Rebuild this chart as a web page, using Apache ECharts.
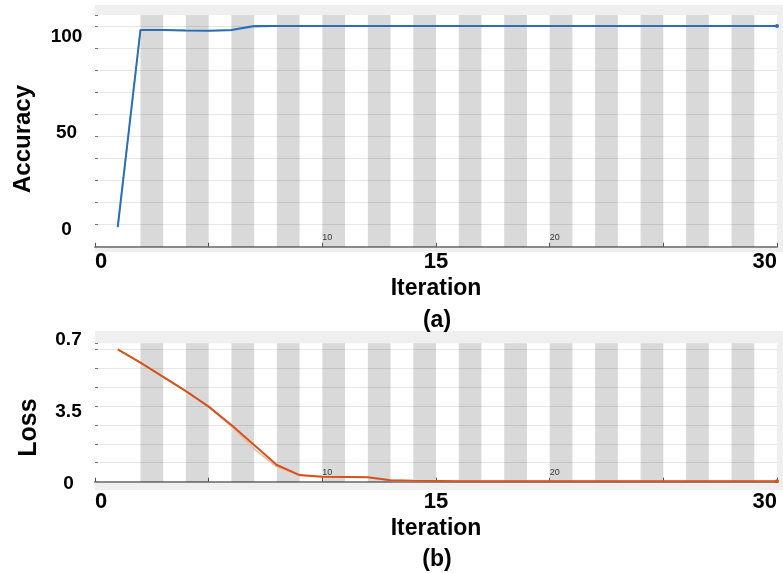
<!DOCTYPE html>
<html>
<head>
<meta charset="utf-8">
<title>Training accuracy and loss</title>
<script src="https://cdn.jsdelivr.net/npm/echarts@6/dist/echarts.min.js"></script>
<style>
  html, body { margin: 0; padding: 0; background: #fff; }
  #chart { width: 783px; height: 573px; }
</style>
</head>
<body>
<div id="chart"></div>
<script>
// iterations 1..30
const iterations = [1, 2, 3, 4, 5, 6, 7, 8, 9, 10, 11, 12, 13, 14, 15,
  16, 17, 18, 19, 20, 21, 22, 23, 24, 25, 26, 27, 28, 29, 30];

// accuracy (%) - smoothed (dark) and raw (light)
const accuracySmoothed = [8.9, 98.2, 98.2, 98.0, 97.9, 98.2, 100, 100, 100, 100,
  100, 100, 100, 100, 100, 100, 100, 100, 100, 100,
  100, 100, 100, 100, 100, 100, 100, 100, 100, 100];
const accuracyRaw = [8.9, 98.2, 98.2, 98.0, 97.9, 98.0, 99.4, 100, 100, 100,
  100, 100, 100, 100, 100, 100, 100, 100, 100, 100,
  100, 100, 100, 100, 100, 100, 100, 100, 100, 100];

// loss - smoothed (dark) and raw (light)
const lossSmoothed = [0.698, 0.628, 0.553, 0.478, 0.396, 0.299, 0.194, 0.088, 0.035, 0.026,
  0.025, 0.023, 0.008, 0.005, 0.004, 0.003, 0.003, 0.002, 0.002, 0.002,
  0.002, 0.002, 0.002, 0.002, 0.002, 0.002, 0.002, 0.002, 0.002, 0.002];
const lossRaw = [0.698, 0.628, 0.553, 0.478, 0.396, 0.292, 0.172, 0.078, 0.033, 0.026,
  0.025, 0.023, 0.008, 0.005, 0.004, 0.003, 0.003, 0.002, 0.002, 0.002,
  0.002, 0.002, 0.002, 0.002, 0.002, 0.002, 0.002, 0.002, 0.002, 0.002];

// shaded epochs (iteration ranges)
const epochBands = [[2, 3], [4, 5], [6, 7], [8, 9], [10, 11], [12, 13], [14, 15],
  [16, 17], [18, 19], [20, 21], [22, 23], [24, 25], [26, 27], [28, 29]];

// tick labels
const bigXLabels = [0, 15, 30];
const smallXLabels = [10, 20];
const accLabelValues = [0, 50, 100];
const lossLabelValues = [0, 0.35, 0.7];
const lossLabelText = ['0', '3.5', '0.7'];

const FONT = "'Liberation Sans', Arial, sans-serif";

const chart = echarts.init(document.getElementById('chart'));

const toPairs = vals => iterations.map((it, i) => [it, vals[i]]);
// last point gets a small dot like the original plot
const withEndDot = vals => {
  const pts = toPairs(vals);
  const last = pts.length - 1;
  pts[last] = { value: pts[last], symbol: 'circle', symbolSize: 4 };
  return pts;
};

const bigXAxis = (gridIndex, margin, nameGap) => ({
  type: 'value',
  gridIndex,
  min: 0,
  max: 30,
  interval: 5,
  axisLine: { lineStyle: { color: '#8a8a8a', width: 2 } },
  axisTick: { inside: true, length: 4, lineStyle: { color: '#555' } },
  axisLabel: {
    customValues: bigXLabels,
    margin,
    fontSize: 22,
    fontWeight: 'bold',
    fontFamily: FONT,
    color: '#000',
    alignMinLabel: 'left',
    alignMaxLabel: 'right'
  },
  splitLine: { show: false },
  name: 'Iteration',
  nameLocation: 'middle',
  nameGap,
  nameTextStyle: { fontSize: 23, fontWeight: 'bold', fontFamily: FONT, color: '#000' }
});

const smallXAxis = gridIndex => ({
  type: 'value',
  gridIndex,
  position: 'bottom',
  min: 0,
  max: 30,
  axisLine: { show: false },
  axisTick: { show: false },
  splitLine: { show: false },
  axisLabel: {
    customValues: smallXLabels,
    inside: true,
    margin: 5,
    fontSize: 9,
    fontFamily: FONT,
    color: '#444',
    align: 'left'
  }
});

const dataYAxis = (gridIndex, max, interval) => ({
  type: 'value',
  gridIndex,
  min: 0,
  max,
  interval,
  axisLine: { show: false },
  axisTick: { inside: true, length: 3, lineStyle: { color: '#777' } },
  axisLabel: { show: false },
  splitLine: { showMinLine: false, showMaxLine: false, lineStyle: { color: '#e6e6e6' } }
});

const labelYAxis = (gridIndex, min, max, values, formatter, margin, name, nameSize, nameGap) => ({
  type: 'value',
  gridIndex,
  min,
  max,
  axisLine: { show: false },
  axisTick: { show: false },
  splitLine: { show: false },
  axisLabel: {
    customValues: values,
    formatter,
    margin,
    align: 'center',
    fontSize: 19,
    fontWeight: 'bold',
    fontFamily: FONT,
    color: '#000'
  },
  name,
  nameLocation: 'middle',
  nameGap,
  nameTextStyle: { fontSize: nameSize, fontWeight: 'bold', fontFamily: FONT, color: '#000' }
});

const bandSeries = (xAxisIndex, yAxisIndex) => ({
  type: 'line',
  xAxisIndex,
  yAxisIndex,
  data: [],
  silent: true,
  z: 1,
  markArea: {
    silent: true,
    itemStyle: { color: 'rgba(0,0,0,0.15)' },
    data: epochBands.map(b => [{ xAxis: b[0] }, { xAxis: b[1] }])
  }
});

const lineSeries = (xAxisIndex, yAxisIndex, data, color, width, z) => ({
  type: 'line',
  xAxisIndex,
  yAxisIndex,
  data,
  symbol: 'none',
  color,
  lineStyle: { color, width },
  itemStyle: { color },
  z,
  animation: false
});

const option = {
  animation: false,
  graphic: [
    { type: 'rect', z: -1, silent: true, shape: { x: 95, y: 5, width: 688, height: 247 }, style: { fill: '#efefef' } },
    { type: 'rect', z: -1, silent: true, shape: { x: 95, y: 331, width: 688, height: 159 }, style: { fill: '#efefef' } }
  ],
  title: [
    { text: '(a)', left: 437, top: 309, textAlign: 'center', padding: 0,
      textStyle: { fontSize: 23, fontWeight: 'bold', fontFamily: FONT, color: '#000' } },
    { text: '(b)', left: 437, top: 548, textAlign: 'center', padding: 0,
      textStyle: { fontSize: 23, fontWeight: 'bold', fontFamily: FONT, color: '#000' } }
  ],
  grid: [
    { left: 95, right: 6, top: 15, height: 231.7, show: true, backgroundColor: '#fff', borderWidth: 0 },
    { left: 95, right: 6, top: 343.3, height: 138.4, show: true, backgroundColor: '#fff', borderWidth: 0 },
    { left: 95, right: 6, top: 20, height: 238 },
    { left: 95, right: 6, top: 330, height: 195 }
  ],
  xAxis: [
    bigXAxis(0, 4, 30),
    smallXAxis(0),
    bigXAxis(1, 9, 35),
    smallXAxis(1),
    { type: 'value', gridIndex: 2, show: false, min: 0, max: 30 },
    { type: 'value', gridIndex: 3, show: false, min: 0, max: 30 }
  ],
  yAxis: [
    dataYAxis(0, 105, 10),
    dataYAxis(1, 0.73, 0.1),
    labelYAxis(2, -14.87, 108.45, accLabelValues, v => String(v), 28.5, 'Accuracy', 24, 60),
    labelYAxis(3, -0.1993, 0.7486, lossLabelValues, v => {
      let best = 0;
      lossLabelValues.forEach((lv, i) => {
        if (Math.abs(lv - v) < Math.abs(lossLabelValues[best] - v)) best = i;
      });
      return lossLabelText[best];
    }, 26.5, 'Loss', 25, 53)
  ],
  series: [
    bandSeries(0, 0),
    lineSeries(0, 0, toPairs(accuracyRaw), '#a9c8e8', 1.5, 2),
    lineSeries(0, 0, withEndDot(accuracySmoothed), '#2d6db5', 2, 3),
    bandSeries(2, 1),
    lineSeries(2, 1, toPairs(lossRaw), '#f2b9a0', 1.5, 2),
    lineSeries(2, 1, withEndDot(lossSmoothed), '#d4531c', 2, 3)
  ]
};

chart.setOption(option);
</script>
</body>
</html>
